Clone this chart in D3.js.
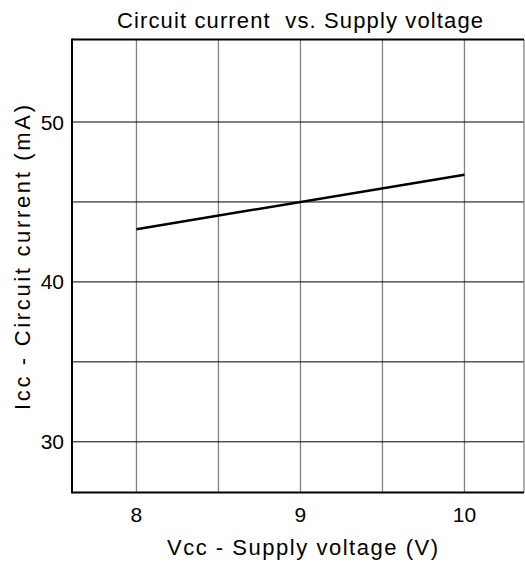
<!DOCTYPE html>
<html>
<head>
<meta charset="utf-8">
<script src="https://cdn.jsdelivr.net/npm/d3@7"></script>
<style>
  body { margin: 0; background: #fff; }
  text { font-family: "Liberation Sans", Arial, sans-serif; fill: #000; white-space: pre; }
</style>
</head>
<body>
<svg id="chart" width="525" height="563"></svg>
<script>
// data
const vcc = [8, 10];
const icc = [43.3, 46.7];
const xTicks = [8, 9, 10];
const yTicks = [30, 40, 50];
const xGrid = [8, 8.5, 9, 9.5, 10];
const yGrid = [30, 35, 40, 45, 50];

const svg = d3.select("#chart");
const pLeft = 72, pRight = 524, pTop = 39.5, pBottom = 492.5;

const x = d3.scaleLinear().domain([7.607, 10.363]).range([pLeft, pRight]);
const y = d3.scaleLinear().domain([26.83, 55.16]).range([pBottom, pTop]);

// grid
svg.append("g").selectAll("line").data(xGrid).join("line")
    .attr("x1", d => x(d)).attr("x2", d => x(d))
    .attr("y1", pTop).attr("y2", pBottom)
    .attr("stroke", "#808080").attr("stroke-width", 1.3);

svg.append("g").selectAll("line").data(yGrid).join("line")
    .attr("x1", pLeft).attr("x2", pRight)
    .attr("y1", d => y(d)).attr("y2", d => y(d))
    .attr("stroke", "#000").attr("stroke-width", 1);

// frame
svg.append("line").attr("x1", pRight).attr("x2", pRight).attr("y1", pTop).attr("y2", pBottom)
    .attr("stroke", "#808080").attr("stroke-width", 1.3);
svg.append("line").attr("x1", pLeft).attr("x2", pRight).attr("y1", pTop).attr("y2", pTop)
    .attr("stroke", "#000").attr("stroke-width", 2);
svg.append("line").attr("x1", pLeft).attr("x2", pRight).attr("y1", pBottom).attr("y2", pBottom)
    .attr("stroke", "#000").attr("stroke-width", 2);
svg.append("line").attr("x1", pLeft).attr("x2", pLeft).attr("y1", pTop - 1).attr("y2", pBottom + 1)
    .attr("stroke", "#000").attr("stroke-width", 2);

// data line
const line = d3.line().x((d, i) => x(vcc[i])).y(d => y(d));
svg.append("path").datum(icc)
    .attr("d", line)
    .attr("fill", "none").attr("stroke", "#000").attr("stroke-width", 2.5);

// tick labels
svg.append("g").selectAll("text").data(xTicks).join("text")
    .attr("x", d => x(d)).attr("y", 522)
    .attr("text-anchor", "middle").attr("font-size", 21)
    .text(d => d);

svg.append("g").selectAll("text").data(yTicks).join("text")
    .attr("x", 64).attr("y", d => y(d) + 7.5)
    .attr("text-anchor", "end").attr("font-size", 21)
    .text(d => d);

// titles
svg.append("text").attr("x", 117).attr("y", 28)
    .attr("font-size", 22)
    .attr("textLength", 366).attr("lengthAdjust", "spacing")
    .text("Circuit current  vs. Supply voltage");

svg.append("text").attr("x", 167).attr("y", 555)
    .attr("font-size", 22)
    .attr("textLength", 271).attr("lengthAdjust", "spacing")
    .text("Vcc - Supply voltage (V)");

svg.append("text")
    .attr("transform", "translate(30,410) rotate(-90)")
    .attr("font-size", 22)
    .attr("textLength", 305).attr("lengthAdjust", "spacing")
    .text("Icc - Circuit current (mA)");
</script>
</body>
</html>
